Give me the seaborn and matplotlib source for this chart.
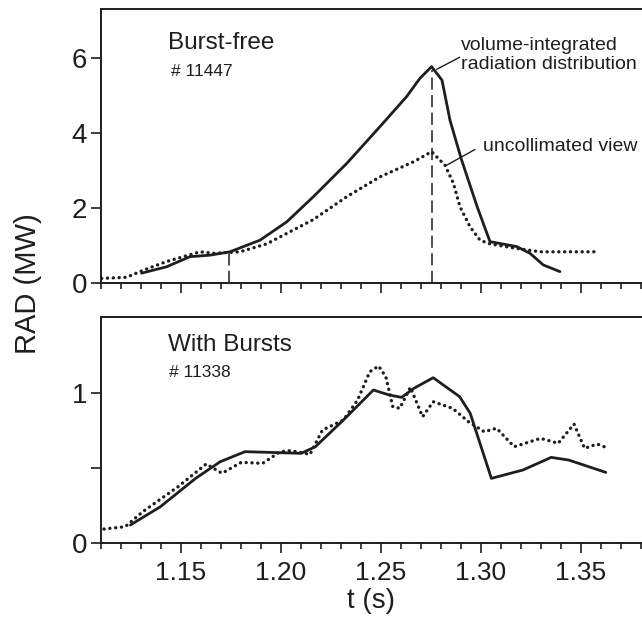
import numpy as np
import pandas as pd
import matplotlib
matplotlib.use("Agg")
import matplotlib.pyplot as plt
import seaborn as sns
from matplotlib.ticker import MultipleLocator, FixedLocator

# ---------------- data ----------------
# Top panel: burst-free discharge #11447
t_vol_top = [1.1303, 1.1428, 1.1545, 1.1645, 1.1745, 1.1895, 1.2029, 1.2162, 1.2329,
             1.2495, 1.2628, 1.2695, 1.2753, 1.2805, 1.2845, 1.2903, 1.2981, 1.3045,
             1.3178, 1.3245, 1.3311, 1.3395]
v_vol_top = [0.27, 0.44, 0.71, 0.75, 0.84, 1.15, 1.64, 2.31, 3.20,
             4.18, 4.98, 5.47, 5.78, 5.42, 4.35, 3.29, 2.04, 1.11,
             0.98, 0.80, 0.49, 0.31]

t_unc_top = [1.1103, 1.1228, 1.1312, 1.1428, 1.1595, 1.1662, 1.1795, 1.1928, 1.2162,
             1.2329, 1.2495, 1.2662, 1.2753, 1.2820, 1.2862, 1.2895, 1.2945, 1.2995,
             1.3045, 1.3178, 1.3295, 1.3570]
v_unc_top = [0.13, 0.16, 0.35, 0.58, 0.84, 0.80, 0.84, 1.05, 1.70,
             2.31, 2.84, 3.24, 3.51, 3.15, 2.67, 2.04, 1.51, 1.15,
             1.05, 0.93, 0.84, 0.84]

# Bottom panel: discharge with bursts #11338
t_vol_bot = [1.1247, 1.1397, 1.1573, 1.1696, 1.1820, 1.1925, 1.2101, 1.2172, 1.2312,
             1.2462, 1.2541, 1.2603, 1.2664, 1.2761, 1.2893, 1.2946, 1.3052, 1.3210,
             1.3351, 1.3439, 1.3624]
v_vol_bot = [0.122, 0.244, 0.433, 0.544, 0.611, 0.607, 0.600, 0.644, 0.822,
             1.022, 0.989, 0.973, 1.033, 1.104, 0.978, 0.867, 0.433, 0.489,
             0.573, 0.555, 0.473]

t_unc_bot = [1.1115, 1.1221, 1.1309, 1.1485, 1.1626, 1.1705, 1.1802, 1.1908, 1.1996,
             1.2048, 1.2145, 1.2207, 1.2312, 1.2383, 1.2444, 1.2488, 1.2524, 1.2559,
             1.2594, 1.2647, 1.2708, 1.2761, 1.2858, 1.2937, 1.3016, 1.3078, 1.3166,
             1.3298, 1.3386, 1.3465, 1.3518, 1.3580, 1.3624]
v_unc_bot = [0.095, 0.111, 0.211, 0.377, 0.529, 0.467, 0.540, 0.533, 0.611,
             0.618, 0.593, 0.755, 0.822, 0.955, 1.144, 1.182, 1.111, 0.911,
             0.900, 1.040, 0.844, 0.944, 0.900, 0.811, 0.744, 0.767, 0.644,
             0.700, 0.667, 0.795, 0.633, 0.662, 0.640]

# marker times (dashed verticals) and their heights
t_marks = [1.1742, 1.2753]
v_marks = [0.80, 5.68]

x_ticks = [1.15, 1.20, 1.25, 1.30, 1.35]
x_ticklabels = ["1.15", "1.20", "1.25", "1.30", "1.35"]
y_ticks_top = [0, 2, 4, 6]
y_ticks_bot = [0, 0.5, 1]
y_ticklabels_bot = ["0", "", "1"]

# ---------------- style ----------------
sns.set_style("ticks")
fam = ["Liberation Sans", "DejaVu Sans"]
plt.rcParams["font.family"] = fam

INK = "#1e1e1e"
fig = plt.figure(figsize=(6.42, 6.38), dpi=100)
ax_top = fig.add_axes([0.1573, 0.5560, 0.8427, 0.4294])
ax_bot = fig.add_axes([0.1573, 0.1484, 0.8427, 0.3543])


def draw(ax, tv, vv, tu, vu):
    sns.lineplot(x=tv, y=vv, ax=ax, color=INK, linewidth=2.0, estimator=None,
                 sort=False, legend=False)
    sns.lineplot(x=tu, y=vu, ax=ax, color=INK, linewidth=2.4, estimator=None,
                 sort=False, legend=False)
    ln = ax.get_lines()[-1]
    ln.set_linestyle((0, (0.05, 1.7)))
    ln.set_dash_capstyle("round")


draw(ax_top, t_vol_top, v_vol_top, t_unc_top, v_unc_top)
draw(ax_bot, t_vol_bot, v_vol_bot, t_unc_bot, v_unc_bot)

for tm, vm in zip(t_marks, v_marks):
    ax_top.vlines(tm, 0, vm, colors=INK, linewidth=1.1, linestyles=(0, (8, 3.5)))

xlim = (1.11, 1.3805)
for ax in (ax_top, ax_bot):
    ax.set_xlim(*xlim)
    ax.xaxis.set_major_locator(FixedLocator(x_ticks))
    ax.xaxis.set_minor_locator(MultipleLocator(0.01))
    ax.tick_params(axis="x", which="major", direction="out", length=7.5, width=1.2,
                   color=INK, labelsize=19, labelcolor=INK, pad=5)
    ax.tick_params(axis="x", which="minor", direction="out", length=4, width=1.2,
                   color=INK)
    ax.tick_params(axis="y", which="major", direction="out", length=7, width=1.2,
                   color=INK, labelsize=20, labelcolor=INK, pad=3)
    ax.spines["right"].set_visible(False)
    for s in ("left", "top", "bottom"):
        ax.spines[s].set_visible(True)
        ax.spines[s].set_linewidth(1.4)
        ax.spines[s].set_color(INK)
    ax.set_xlabel("")
    ax.set_ylabel("")

ax_top.set_ylim(0, 7.31)
ax_top.set_yticks(y_ticks_top)
ax_top.set_xticklabels([])

ax_bot.set_ylim(0, 1.507)
ax_bot.set_yticks(y_ticks_bot)
ax_bot.set_yticklabels(y_ticklabels_bot)
ax_bot.set_xticklabels(x_ticklabels)

# axis labels
fig.text(0.044, 0.556, "RAD (MW)", rotation=90, ha="center", va="center",
         fontsize=21, color=INK)
fig.text(0.578, 0.058, "t (s)", ha="center", va="center", fontsize=20, color=INK)

# annotations top
ax_top.text(1.1433, 6.41, "Burst-free", fontsize=17.5, color=INK,
            va="center", ha="left")
ax_top.text(1.1450, 5.66, "# 11447", fontsize=12.5, color=INK,
            va="center", ha="left")
ax_top.text(1.2902, 6.09, "volume-integrated\nradiation distribution", fontsize=14,
            color=INK, va="center", ha="left", linespacing=1.15, clip_on=False)
ax_top.plot([1.2779, 1.2893], [5.71, 6.03], color=INK, linewidth=1.0)
ax_top.text(1.3008, 3.66, "uncollimated view", fontsize=14, color=INK,
            va="center", ha="left")
ax_top.plot([1.2828, 1.2970], [3.15, 3.57], color=INK, linewidth=1.0)

# annotations bottom
ax_bot.text(1.1436, 1.32, "With Bursts", fontsize=17.5, color=INK,
            va="center", ha="left")
ax_bot.text(1.1441, 1.14, "# 11338", fontsize=12.5, color=INK,
            va="center", ha="left")

fig.savefig("out.png", dpi=100, facecolor="white")
